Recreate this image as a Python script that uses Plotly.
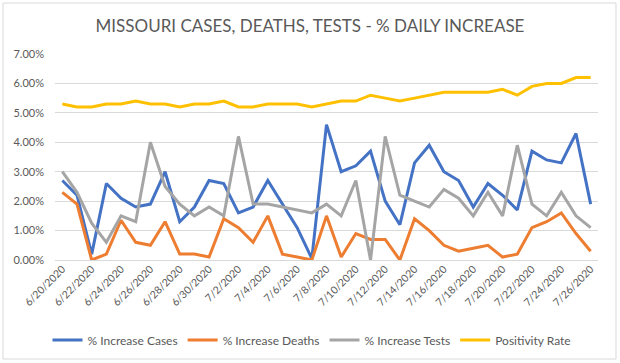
import plotly.graph_objects as go

dates = ["6/20/2020","6/21/2020","6/22/2020","6/23/2020","6/24/2020","6/25/2020","6/26/2020",
         "6/27/2020","6/28/2020","6/29/2020","6/30/2020","7/1/2020","7/2/2020","7/3/2020",
         "7/4/2020","7/5/2020","7/6/2020","7/7/2020","7/8/2020","7/9/2020","7/10/2020",
         "7/11/2020","7/12/2020","7/13/2020","7/14/2020","7/15/2020","7/16/2020","7/17/2020",
         "7/18/2020","7/19/2020","7/20/2020","7/21/2020","7/22/2020","7/23/2020","7/24/2020",
         "7/25/2020","7/26/2020"]

cases = [2.7, 2.2, 0.2, 2.6, 2.1, 1.8, 1.9, 3.0, 1.3, 1.8, 2.7, 2.6, 1.6, 1.8, 2.7, 1.9, 1.1, 0.05,
         4.6, 3.0, 3.2, 3.7, 2.0, 1.2, 3.3, 3.9, 3.0, 2.7, 1.8, 2.6, 2.2, 1.7, 3.7, 3.4, 3.3, 4.3, 1.9]
deaths = [2.3, 1.9, 0.0, 0.2, 1.35, 0.6, 0.5, 1.3, 0.2, 0.2, 0.1, 1.4, 1.1, 0.6, 1.5, 0.2, 0.1, 0.0,
          1.5, 0.1, 0.9, 0.7, 0.7, 0.0, 1.4, 1.0, 0.5, 0.3, 0.4, 0.5, 0.1, 0.2, 1.1, 1.3, 1.6, 0.9, 0.3]
tests = [3.0, 2.3, 1.25, 0.6, 1.5, 1.3, 4.0, 2.5, 1.9, 1.5, 1.8, 1.5, 4.2, 1.9, 1.9, 1.8, 1.7, 1.6,
         1.9, 1.5, 2.7, 0.0, 4.2, 2.2, 2.0, 1.8, 2.4, 2.1, 1.5, 2.3, 1.5, 3.9, 1.9, 1.5, 2.3, 1.5, 1.1]
positivity = [5.3, 5.2, 5.2, 5.3, 5.3, 5.4, 5.3, 5.3, 5.2, 5.3, 5.3, 5.4, 5.2, 5.2, 5.3, 5.3, 5.3, 5.2,
              5.3, 5.4, 5.4, 5.6, 5.5, 5.4, 5.5, 5.6, 5.7, 5.7, 5.7, 5.7, 5.8, 5.6, 5.9, 6.0, 6.0, 6.2, 6.2]

series_names = ["% Increase Cases", "% Increase Deaths", "% Increase Tests", "Positivity Rate"]
series_values = [cases, deaths, tests, positivity]
colors = ["#4472C4", "#ED7D31", "#A5A5A5", "#FFC000"]

y_ticks = [0, 1, 2, 3, 4, 5, 6, 7]
y_tick_text = ["0.00%", "1.00%", "2.00%", "3.00%", "4.00%", "5.00%", "6.00%", "7.00%"]

fig = go.Figure()
for name, vals, col in zip(series_names, series_values, colors):
    fig.add_trace(go.Scatter(x=dates, y=vals, mode="lines", name=name,
                             line=dict(color=col, width=3)))

W, H = 620, 363
ml, mr, mt, mb = 55, 22, 54, 103
pw, ph = W - ml - mr, H - mt - mb

def px_x(p):
    return (p - ml) / pw

def px_y(p):
    return (H - mb - p) / ph

fig.update_layout(
    width=W, height=H,
    margin=dict(l=ml, r=mr, t=mt, b=mb, autoexpand=False),
    paper_bgcolor="white", plot_bgcolor="white",
    font=dict(family="Lato, 'Open Sans', sans-serif", color="#595959", size=10),
    title=dict(text="MISSOURI CASES, DEATHS, TESTS - % DAILY INCREASE",
               x=0.5, xanchor="center", y=1 - 26 / H, yanchor="middle",
               font=dict(size=17, color="#595959")),
    showlegend=True,
    legend=dict(orientation="h", x=px_x(312), xanchor="center", y=px_y(340), yanchor="middle",
                font=dict(size=12, color="#595959"), itemwidth=30, tracegroupgap=0),
    xaxis=dict(type="category", range=[-0.5, len(dates) - 0.5], automargin=False,
               tickvals=dates[::2], ticktext=dates[::2], tickangle=-45,
               showgrid=False, showline=False, ticks="", tickfont=dict(size=10.5, color="#595959")),
    yaxis=dict(range=[0, 7], tickvals=y_ticks, ticktext=y_tick_text, automargin=False,
               showgrid=True, gridcolor="#D9D9D9", gridwidth=1, zeroline=True,
               zerolinecolor="#D9D9D9", zerolinewidth=1, showline=False, ticks="",
               ticklabelstandoff=10,
               tickfont=dict(size=11, color="#595959")),
    shapes=[dict(type="rect", xref="paper", yref="paper",
                 x0=px_x(3), x1=px_x(616), y0=px_y(359), y1=px_y(3),
                 line=dict(color="#D9D9D9", width=1), layer="below")],
)

fig.write_html("out.html", config={"displayModeBar": False},
               post_script="document.body.style.margin='0';")
